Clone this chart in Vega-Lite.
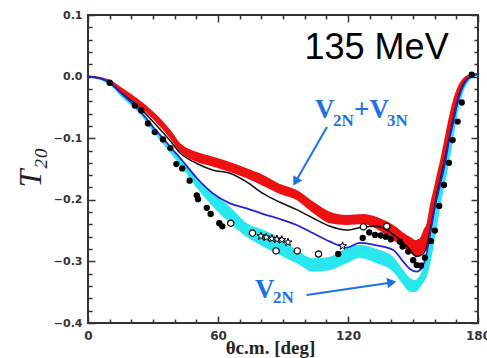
{
  "$schema": "https://vega.github.io/schema/vega-lite/v6.json",
  "width": 390,
  "height": 308,
  "autosize": {"type": "none"},
  "padding": {"left": 88, "top": 15, "right": 9, "bottom": 35},
  "background": "white",
  "config": {
    "view": {"stroke": "#333333", "strokeWidth": 2, "fill": "transparent"},
    "axis": {
      "domain": false, "grid": false, "ticks": true, "tickColor": "#333333", "tickWidth": 1.5, "tickOpacity": 1,
      "labelFont": "DejaVu Sans", "labelFontWeight": "bold", "labelFontSize": 11,
      "labelColor": "#333333", "labelOverlap": false, "labelFlush": false, "labelBound": false
    }
  },
  "datasets": {
    "red": [
      {"x":0,"lo":-0.001,"hi":0.002},{"x":5.5,"lo":-0.0039,"hi":-0.0007},{"x":10.2,"lo":-0.012,"hi":-0.0055},
      {"x":15.2,"lo":-0.025,"hi":-0.0169},{"x":23.1,"lo":-0.0461,"hi":-0.0364},{"x":30.8,"lo":-0.0721,"hi":-0.0591},
      {"x":38.4,"lo":-0.1029,"hi":-0.0883},{"x":42.5,"lo":-0.122,"hi":-0.108},{"x":46.5,"lo":-0.1325,"hi":-0.117},{"x":50.2,"lo":-0.1386,"hi":-0.1224},
      {"x":57.8,"lo":-0.1463,"hi":-0.13},{"x":65.5,"lo":-0.1549,"hi":-0.1386},{"x":73.2,"lo":-0.1651,"hi":-0.1489},
      {"x":80.9,"lo":-0.1776,"hi":-0.1597},{"x":88.6,"lo":-0.1906,"hi":-0.1744},{"x":96.3,"lo":-0.2003,"hi":-0.1841},
      {"x":104.0,"lo":-0.2219,"hi":-0.2031},{"x":111.7,"lo":-0.2381,"hi":-0.2193},{"x":119.4,"lo":-0.2409,"hi":-0.2247},
      {"x":127.1,"lo":-0.2393,"hi":-0.2231},{"x":133.2,"lo":-0.2474,"hi":-0.2279},{"x":140.9,"lo":-0.2653,"hi":-0.2409},
      {"x":147.1,"lo":-0.2815,"hi":-0.2571},{"x":149.5,"lo":-0.288,"hi":-0.262},{"x":150.9,"lo":-0.2912,"hi":-0.2653},
      {"x":153.2,"lo":-0.2912,"hi":-0.262},{"x":154.8,"lo":-0.2847,"hi":-0.249},{"x":156.3,"lo":-0.2815,"hi":-0.238},
      {"x":157.8,"lo":-0.2539,"hi":-0.2085},{"x":159.4,"lo":-0.2231,"hi":-0.184},{"x":160.9,"lo":-0.1955,"hi":-0.16},
      {"x":162.5,"lo":-0.1711,"hi":-0.136},{"x":164.8,"lo":-0.1354,"hi":-0.096},{"x":167.1,"lo":-0.098,"hi":-0.0575},
      {"x":169.4,"lo":-0.0575,"hi":-0.0275},{"x":171.7,"lo":-0.0266,"hi":-0.0095},{"x":174.0,"lo":-0.0088,"hi":0.0002},
      {"x":176.3,"lo":-0.0015,"hi":0.0034},{"x":180,"lo":0.0034,"hi":0.0058}
    ],
    "cyan": [
      {"x":0,"lo":-0.001,"hi":0.001},{"x":10.2,"lo":-0.0136,"hi":-0.0088},{"x":15.4,"lo":-0.0331,"hi":-0.0274},
      {"x":23.1,"lo":-0.0575,"hi":-0.051},{"x":30.8,"lo":-0.0932,"hi":-0.0851},{"x":38.4,"lo":-0.1257,"hi":-0.1159},
      {"x":42.5,"lo":-0.1435,"hi":-0.1321},{"x":50.2,"lo":-0.1808,"hi":-0.1646},{"x":57.8,"lo":-0.2117,"hi":-0.189},
      {"x":65.5,"lo":-0.2381,"hi":-0.2112},{"x":73.2,"lo":-0.2599,"hi":-0.2377},{"x":80.9,"lo":-0.2761,"hi":-0.249},
      {"x":88.6,"lo":-0.2896,"hi":-0.262},{"x":96.3,"lo":-0.3031,"hi":-0.2815},{"x":104.0,"lo":-0.3167,"hi":-0.295},
      {"x":111.7,"lo":-0.314,"hi":-0.2924},{"x":119.4,"lo":-0.3031,"hi":-0.2787},{"x":125.5,"lo":-0.2945,"hi":-0.2734},
      {"x":133.2,"lo":-0.3031,"hi":-0.2799},{"x":140.9,"lo":-0.3172,"hi":-0.2929},{"x":145.5,"lo":-0.3383,"hi":-0.314},
      {"x":148.6,"lo":-0.3492,"hi":-0.327},{"x":150.9,"lo":-0.3497,"hi":-0.3302},{"x":154.0,"lo":-0.3383,"hi":-0.3167},
      {"x":156.3,"lo":-0.3248,"hi":-0.2924},{"x":158.6,"lo":-0.2924,"hi":-0.2539},{"x":160.9,"lo":-0.2458,"hi":-0.2084},
      {"x":162.5,"lo":-0.2133,"hi":-0.1808},{"x":164.8,"lo":-0.1727,"hi":-0.1435},{"x":167.1,"lo":-0.1321,"hi":-0.1062},
      {"x":169.4,"lo":-0.0834,"hi":-0.0623},{"x":171.7,"lo":-0.0429,"hi":-0.0299},{"x":174.0,"lo":-0.0185,"hi":-0.012},
      {"x":176.3,"lo":-0.0055,"hi":-0.0007},{"x":180,"lo":0.0018,"hi":0.0042}
    ],
    "black": [
      {"x":0,"y":0},{"x":7.8,"y":-0.0055},{"x":15.2,"y":-0.026},{"x":23.1,"y":-0.048},{"x":30.8,"y":-0.076},
      {"x":38.4,"y":-0.106},{"x":42.5,"y":-0.124},{"x":46.5,"y":-0.134},{"x":50.2,"y":-0.141},{"x":57.8,"y":-0.152},{"x":65.5,"y":-0.157},
      {"x":73.2,"y":-0.171},{"x":80.9,"y":-0.19},{"x":88.6,"y":-0.204},{"x":96.3,"y":-0.216},{"x":104.0,"y":-0.23},
      {"x":111.7,"y":-0.243},{"x":119.4,"y":-0.249},{"x":127.1,"y":-0.244},{"x":133.2,"y":-0.243},{"x":140.9,"y":-0.256},
      {"x":147.1,"y":-0.275},{"x":151.7,"y":-0.292},{"x":154.6,"y":-0.288},{"x":156.3,"y":-0.276},{"x":157.8,"y":-0.252},
      {"x":159.4,"y":-0.222},{"x":160.9,"y":-0.193},{"x":162.5,"y":-0.168},{"x":164.8,"y":-0.132},{"x":167.1,"y":-0.094},
      {"x":169.4,"y":-0.055},{"x":171.7,"y":-0.025},{"x":174.0,"y":-0.008},{"x":177.2,"y":0.001},{"x":180,"y":0.004}
    ],
    "blue": [
      {"x":0,"y":0},{"x":5.5,"y":-0.0023},{"x":10.0,"y":-0.0099},{"x":15.4,"y":-0.0274},{"x":21.6,"y":-0.0472},
      {"x":26.8,"y":-0.0672},{"x":30.8,"y":-0.0851},{"x":34.6,"y":-0.0997},{"x":38.4,"y":-0.1159},{"x":42.5,"y":-0.1321},
      {"x":50.2,"y":-0.1646},{"x":57.8,"y":-0.19},{"x":65.5,"y":-0.2057},{"x":73.2,"y":-0.2138},{"x":80.9,"y":-0.2231},
      {"x":88.6,"y":-0.2312},{"x":96.3,"y":-0.2409},{"x":104.0,"y":-0.2544},{"x":111.7,"y":-0.268},{"x":119.4,"y":-0.2775},
      {"x":125.5,"y":-0.27},{"x":133.2,"y":-0.274},{"x":140.9,"y":-0.2815},{"x":145.5,"y":-0.3005},{"x":148.6,"y":-0.3123},
      {"x":151.7,"y":-0.3167},{"x":154.0,"y":-0.3112},{"x":156.3,"y":-0.2869},{"x":157.8,"y":-0.2588},{"x":158.8,"y":-0.2393},
      {"x":160.2,"y":-0.2117},{"x":162.5,"y":-0.176},{"x":164.8,"y":-0.1403},{"x":166.6,"y":-0.1062},{"x":168.7,"y":-0.0721},
      {"x":170.5,"y":-0.0429},{"x":172.6,"y":-0.0201},{"x":174.9,"y":-0.0055},{"x":177.2,"y":0.001},{"x":180,"y":0.0042}
    ],
    "filled": [
      {"x":10.0,"y":-0.01},{"x":21.6,"y":-0.047},{"x":24.6,"y":-0.055},{"x":27.7,"y":-0.076},{"x":30.8,"y":-0.09},
      {"x":34.6,"y":-0.102},{"x":38.0,"y":-0.116},{"x":40.8,"y":-0.142},{"x":43.5,"y":-0.149},{"x":46.9,"y":-0.169},
      {"x":50.2,"y":-0.193},{"x":50.8,"y":-0.199},{"x":54.8,"y":-0.213},{"x":56.6,"y":-0.223},{"x":60.6,"y":-0.238},
      {"x":62.0,"y":-0.243},{"x":115.5,"y":-0.288},{"x":126.8,"y":-0.262},{"x":129.8,"y":-0.253},{"x":132.5,"y":-0.257},
      {"x":135.1,"y":-0.258},{"x":137.4,"y":-0.26},{"x":139.8,"y":-0.264},{"x":144.0,"y":-0.268},{"x":145.2,"y":-0.276},
      {"x":147.8,"y":-0.284},{"x":150.1,"y":-0.298},{"x":151.7,"y":-0.306},{"x":153.7,"y":-0.307},{"x":155.5,"y":-0.294},
      {"x":158.3,"y":-0.267},{"x":160.1,"y":-0.25},{"x":162.1,"y":-0.21},{"x":164.3,"y":-0.176},{"x":166.6,"y":-0.14},
      {"x":168.3,"y":-0.103},{"x":170.6,"y":-0.073},{"x":172.5,"y":-0.042},{"x":177.1,"y":0.003}
    ],
    "open": [
      {"x":65.9,"y":-0.238},{"x":75.9,"y":-0.254},{"x":86.8,"y":-0.283},{"x":96.6,"y":-0.283},
      {"x":106.4,"y":-0.288},{"x":127.1,"y":-0.244},{"x":137.9,"y":-0.243}
    ],
    "stars": [
      {"x":79.8,"y":-0.259},{"x":82.3,"y":-0.261},{"x":84.9,"y":-0.263},{"x":87.2,"y":-0.264},
      {"x":89.5,"y":-0.265},{"x":92.3,"y":-0.269},{"x":117.5,"y":-0.275}
    ],
    "arrow1": [{"x":110.3,"y":-0.0818,"x2":95.8,"y2":-0.1706}],
    "arrow2": [{"x":100.9,"y":-0.3545,"x2":140.2,"y2":-0.3341}],
    "energy": [{"t":"135 MeV","x":133.2,"y":0.047}],
    "bigText": [{"t":"V","x":104.8,"y":-0.0672},{"t":"+V","x":122.8,"y":-0.0672},{"t":"V","x":77.1,"y":-0.3594}],
    "subText": [{"t":"2N","x":113.1,"y":-0.0794},{"t":"3N","x":138.0,"y":-0.0794},{"t":"2N","x":85.4,"y":-0.3683}]
  },
  "resolve": {"axis": {"x": "independent", "y": "independent"}},
  "layer": [
    {
      "data": {"name": "cyan"},
      "mark": {"type": "area", "color": "#2ae6ee", "interpolate": "monotone", "opacity": 1},
      "encoding": {
        "x": {"field": "x", "type": "quantitative",
          "scale": {"domain": [0, 180], "nice": false, "zero": false},
          "axis": {"orient": "bottom", "values": [0,60,120,180], "offset": -7, "tickSize": 7, "zindex": 2,
            "labelPadding": 7, "labelFontSize": 12,
            "title": "θc.m. [deg]", "titleFont": "Liberation Serif", "titleFontWeight": "bold", "titleFontSize": 19,
            "titleColor": "#222222", "titleX": 182, "titleY": 37, "titleBaseline": "alphabetic", "titleAlign": "center"}},
        "y": {"field": "lo", "type": "quantitative",
          "scale": {"domain": [-0.4, 0.1], "nice": false, "zero": false},
          "axis": {"orient": "left", "tickCount": 5, "format": ".1f", "zindex": 2,
            "offset": -7, "tickSize": 7, "labelPadding": 6,
            "title": "T₂₀", "titleFont": "Liberation Serif", "titleFontStyle": "italic", "titleFontWeight": "normal",
            "titleFontSize": 32, "titleColor": "#222222", "titleX": -65, "titleY": 152, "titleAngle": -90,
            "titleAlign": "center", "titleBaseline": "middle"}},
        "y2": {"field": "hi"}
      }
    },
    {
      "data": {"name": "red"},
      "mark": {"type": "area", "color": "#ee1111", "interpolate": "monotone", "opacity": 1},
      "encoding": {
        "x": {"field": "x", "type": "quantitative",
          "axis": {"orient": "top", "values": [0,60,120,180], "offset": -7, "tickSize": 7, "zindex": 2, "labels": false, "title": null}},
        "y": {"field": "lo", "type": "quantitative",
          "axis": {"orient": "right", "values": [-0.4,-0.3,-0.2,-0.1,0,0.1], "offset": -7, "tickSize": 7, "zindex": 2, "labels": false, "title": null}},
        "y2": {"field": "hi"}
      }
    },
    {
      "data": {"name": "black"},
      "mark": {"type": "line", "color": "#111111", "strokeWidth": 1.5, "interpolate": "monotone"},
      "encoding": {
        "x": {"field": "x", "type": "quantitative",
          "axis": {"orient": "bottom", "values": [10,20,30,40,50,70,80,90,100,110,130,140,150,160,170], "offset": -4, "tickSize": 4, "zindex": 2, "labels": false, "title": null}},
        "y": {"field": "y", "type": "quantitative",
          "axis": {"orient": "left", "values": [-0.38,-0.36,-0.34,-0.32,-0.28,-0.26,-0.24,-0.22,-0.18,-0.16,-0.14,-0.12,-0.08,-0.06,-0.04,-0.02,0.02,0.04,0.06,0.08], "offset": -4, "tickSize": 4, "zindex": 2, "labels": false, "title": null}}
      }
    },
    {
      "data": {"name": "blue"},
      "mark": {"type": "line", "color": "#2222d8", "strokeWidth": 1.8, "interpolate": "monotone"},
      "encoding": {
        "x": {"field": "x", "type": "quantitative",
          "axis": {"orient": "top", "values": [10,20,30,40,50,70,80,90,100,110,130,140,150,160,170], "offset": -4, "tickSize": 4, "zindex": 2, "labels": false, "title": null}},
        "y": {"field": "y", "type": "quantitative",
          "axis": {"orient": "right", "values": [-0.38,-0.36,-0.34,-0.32,-0.28,-0.26,-0.24,-0.22,-0.18,-0.16,-0.14,-0.12,-0.08,-0.06,-0.04,-0.02,0.02,0.04,0.06,0.08], "offset": -4, "tickSize": 4, "zindex": 2, "labels": false, "title": null}}
      }
    },
    {
      "data": {"name": "open"},
      "mark": {"type": "point", "shape": "circle", "filled": true, "fill": "white", "stroke": "black", "strokeWidth": 1.2, "size": 40, "opacity": 1},
      "encoding": {
        "x": {"field": "x", "type": "quantitative", "axis": null},
        "y": {"field": "y", "type": "quantitative", "axis": null}
      }
    },
    {
      "data": {"name": "stars"},
      "mark": {"type": "point", "shape": "M0,-1L0.2245,-0.309L0.951,-0.309L0.363,0.118L0.588,0.809L0,0.382L-0.588,0.809L-0.363,0.118L-0.951,-0.309L-0.2245,-0.309Z", "filled": true, "fill": "white", "stroke": "black", "strokeWidth": 1, "size": 70, "opacity": 1},
      "encoding": {
        "x": {"field": "x", "type": "quantitative", "axis": null},
        "y": {"field": "y", "type": "quantitative", "axis": null}
      }
    },
    {
      "data": {"name": "filled"},
      "mark": {"type": "circle", "color": "black", "size": 40, "opacity": 1},
      "encoding": {
        "x": {"field": "x", "type": "quantitative", "axis": null},
        "y": {"field": "y", "type": "quantitative", "axis": null}
      }
    },
    {
      "data": {"name": "arrow1"},
      "mark": {"type": "rule", "color": "#1f6fe5", "strokeWidth": 2},
      "encoding": {
        "x": {"field": "x", "type": "quantitative", "axis": null},
        "y": {"field": "y", "type": "quantitative", "axis": null},
        "x2": {"field": "x2"}, "y2": {"field": "y2"}
      }
    },
    {
      "data": {"name": "arrow1"},
      "mark": {"type": "point", "shape": "triangle-up", "filled": true, "color": "#1f6fe5", "size": 110, "angle": 210, "opacity": 1},
      "encoding": {
        "x": {"field": "x2", "type": "quantitative", "axis": null},
        "y": {"field": "y2", "type": "quantitative", "axis": null}
      }
    },
    {
      "data": {"name": "arrow2"},
      "mark": {"type": "rule", "color": "#1f6fe5", "strokeWidth": 2},
      "encoding": {
        "x": {"field": "x", "type": "quantitative", "axis": null},
        "y": {"field": "y", "type": "quantitative", "axis": null},
        "x2": {"field": "x2"}, "y2": {"field": "y2"}
      }
    },
    {
      "data": {"name": "arrow2"},
      "mark": {"type": "point", "shape": "triangle-up", "filled": true, "color": "#1f6fe5", "size": 110, "angle": 82, "opacity": 1},
      "encoding": {
        "x": {"field": "x2", "type": "quantitative", "axis": null},
        "y": {"field": "y2", "type": "quantitative", "axis": null}
      }
    },
    {
      "data": {"name": "energy"},
      "mark": {"type": "text", "align": "center", "baseline": "middle", "font": "Liberation Sans", "fontSize": 36, "color": "black"},
      "encoding": {
        "x": {"field": "x", "type": "quantitative", "axis": null},
        "y": {"field": "y", "type": "quantitative", "axis": null},
        "text": {"field": "t"}
      }
    },
    {
      "data": {"name": "bigText"},
      "mark": {"type": "text", "align": "left", "baseline": "alphabetic", "font": "Liberation Serif", "fontWeight": "bold", "fontSize": 27, "color": "#1f6fe5"},
      "encoding": {
        "x": {"field": "x", "type": "quantitative", "axis": null},
        "y": {"field": "y", "type": "quantitative", "axis": null},
        "text": {"field": "t"}
      }
    },
    {
      "data": {"name": "subText"},
      "mark": {"type": "text", "align": "left", "baseline": "alphabetic", "font": "Liberation Serif", "fontWeight": "bold", "fontSize": 17, "color": "#1f6fe5"},
      "encoding": {
        "x": {"field": "x", "type": "quantitative", "axis": null},
        "y": {"field": "y", "type": "quantitative", "axis": null},
        "text": {"field": "t"}
      }
    }
  ]
}
